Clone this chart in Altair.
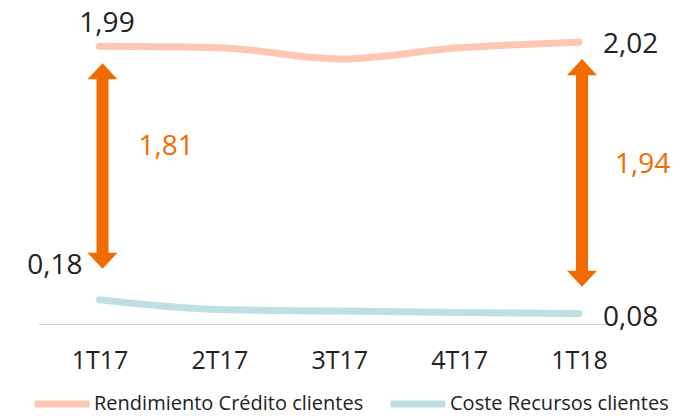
import altair as alt
import pandas as pd

periods = ["1T17", "2T17", "3T17", "4T17", "1T18"]
rendimiento = [1.99, 1.98, 1.90, 1.98, 2.02]
coste = [0.18, 0.11, 0.10, 0.09, 0.08]
series = ["Rendimiento Crédito clientes", "Coste Recursos clientes"]
series_colors = ["#FDC8B3", "#C0DFE3"]
ORANGE = "#F26B00"
TEXT = "#222222"
FONT = "Open Sans"

wide = pd.DataFrame({"periodo": periods, "rend": rendimiento, "coste": coste})
long = pd.concat([
    pd.DataFrame({"periodo": periods, "serie": series[0], "valor": rendimiento}),
    pd.DataFrame({"periodo": periods, "serie": series[1], "valor": coste}),
], ignore_index=True)

fmt = "replace(format(datum.{f}, '.2f'), '.', ',')"

x_enc = alt.X("periodo:N", sort=periods,
              scale=alt.Scale(type="point", range=[91.5, 571], padding=0),
              axis=alt.Axis(title=None, domain=False, ticks=False, grid=False,
                            labelAngle=0, labelFont=FONT, labelFontSize=25,
                            labelColor=TEXT, labelPadding=23))
y_scale = alt.Scale(domain=[0, 2.264], nice=False, zero=True)

base_line = alt.Chart(pd.DataFrame({"a": [0]})).mark_rule(
    color="#CFCFCF", strokeWidth=1.2
).encode(x=alt.value(31), x2=alt.value(600), y=alt.value(316.5))

lines = alt.Chart(long).mark_line(
    interpolate="monotone", strokeWidth=7, strokeCap="round"
).encode(
    x=x_enc,
    y=alt.Y("valor:Q", scale=y_scale, axis=None),
    color=alt.Color("serie:N", scale=alt.Scale(domain=series, range=series_colors),
                    legend=alt.Legend(title=None, orient="none", direction="horizontal",
                                      legendX=23, legendY=365, symbolType="stroke",
                                      symbolSize=3025, symbolStrokeWidth=7,
                                      labelFont=FONT, labelFontSize=20, labelColor=TEXT,
                                      labelOffset=1, labelLimit=400, columnPadding=12)),
)

layers = [base_line, lines]

# arrows (spread between the two series) at first and last quarter
arrow_cfg = [("1T17", 31, 39, -26), ("1T18", 27, 36, -13)]
for per, bottom_gap, tdx, tdy in arrow_cfg:
    d = alt.Chart(wide).transform_filter(alt.datum.periodo == per)
    shaft = d.mark_rule(color=ORANGE, strokeWidth=12, yOffset=25,
                        y2Offset=-(bottom_gap + 8), xOffset=3).encode(
        x=x_enc, y=alt.Y("rend:Q", scale=y_scale), y2="coste:Q")
    head_up = d.mark_point(shape="M-1,0L1,0L0,-1.07Z", size=900, filled=True,
                           opacity=1, color=ORANGE, strokeWidth=0,
                           yOffset=33, xOffset=3).encode(
        x=x_enc, y=alt.Y("rend:Q", scale=y_scale))
    head_dn = d.mark_point(shape="M-1,0L1,0L0,1.07Z", size=900, filled=True,
                           opacity=1, color=ORANGE, strokeWidth=0,
                           yOffset=-(bottom_gap + 16), xOffset=3).encode(
        x=x_enc, y=alt.Y("coste:Q", scale=y_scale))
    spread = d.transform_calculate(
        diff="datum.rend - datum.coste", mid="(datum.rend + datum.coste) / 2"
    ).transform_calculate(lab=fmt.format(f="diff")).mark_text(
        font=FONT, fontSize=28, color=ORANGE, align="left", baseline="middle",
        dx=tdx, dy=tdy).encode(
        x=x_enc, y=alt.Y("mid:Q", scale=y_scale), text="lab:N")
    layers += [shaft, head_up, head_dn, spread]

# end-point value labels
label_cfg = [
    ("1T17", "rend", "center", 7.5, -22),
    ("1T18", "rend", "left", 24, 3),
    ("1T17", "coste", "right", -17, -34),
    ("1T18", "coste", "left", 24, 4),
]
for per, field, al, ldx, ldy in label_cfg:
    t = alt.Chart(wide).transform_filter(alt.datum.periodo == per).transform_calculate(
        lab=fmt.format(f=field)
    ).mark_text(font=FONT, fontSize=28, color=TEXT, align=al, baseline="middle",
                dx=ldx, dy=ldy).encode(
        x=x_enc, y=alt.Y(f"{field}:Q", scale=y_scale), text="lab:N")
    layers.append(t)

chart = alt.layer(*layers).properties(
    width=675, height=317,
    background="white",
    autosize=alt.AutoSizeParams(type="none"),
    padding={"left": 0, "top": 0, "right": 0, "bottom": 85},
).configure_view(strokeWidth=0)

chart.save("out.html", embed_options={"renderer": "svg", "actions": False})
